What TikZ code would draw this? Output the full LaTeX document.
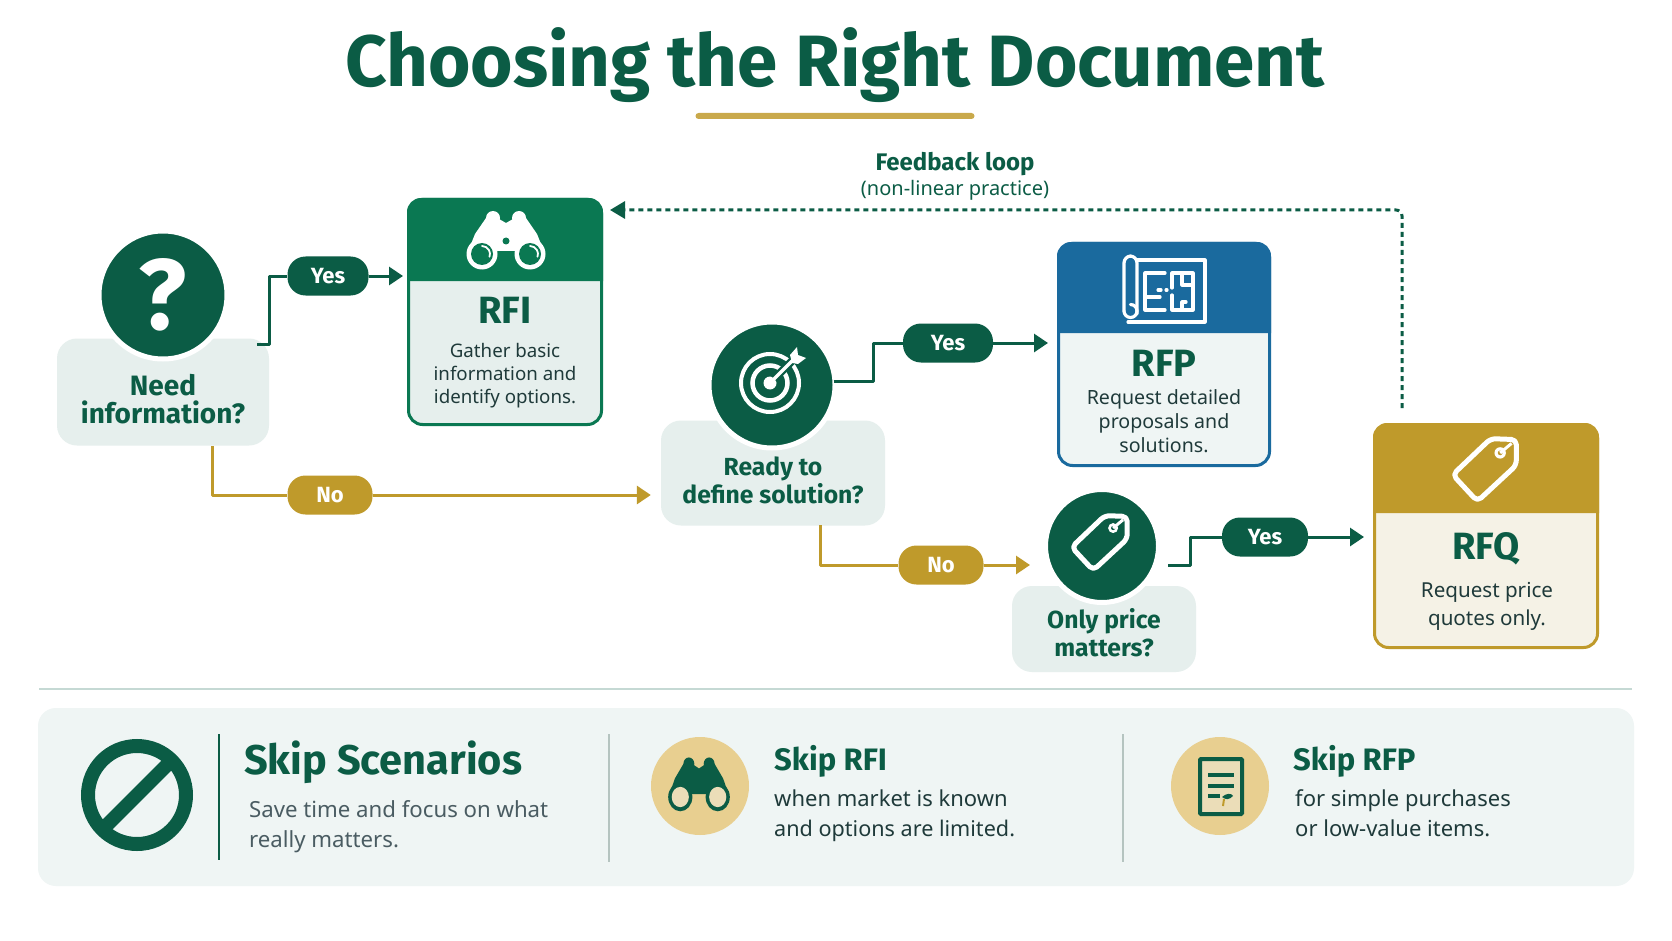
\documentclass[tikz,border=0pt]{standalone}
\usepackage{fontspec}
\setmainfont{Noto Sans}
\newfontfamily\hd{Fira Sans}
\newcommand{\bd}{\hd\bfseries}
\usetikzlibrary{arrows.meta,calc}
\definecolor{dg}{HTML}{0B5C45}
\definecolor{mg}{HTML}{0A7852}
\definecolor{bl}{HTML}{1A6A9E}
\definecolor{gd}{HTML}{BF9A2B}
\definecolor{lt}{HTML}{E6EFED}
\definecolor{pn}{HTML}{EFF5F4}
\definecolor{cr}{HTML}{F5F2E6}
\definecolor{sand}{HTML}{E8CF90}
\definecolor{sandl}{HTML}{EBDDB8}
\definecolor{ink}{HTML}{1F3A3A}
\definecolor{gy}{HTML}{4A5C62}
\definecolor{rule}{HTML}{C5D9D4}
\definecolor{dv}{HTML}{B5C4C0}
\newcommand{\fs}[2]{\fontsize{#1pt}{#2pt}\selectfont}
\tikzset{
  pill/.style={rounded corners=18pt,minimum height=39pt,inner sep=0pt,text=white,font=\bd\fs{22}{25}},
  yespill/.style={pill,fill=dg},
  nopill/.style={pill,fill=gd},
  qbox/.style={fill=lt,rounded corners=20pt,inner sep=0pt},
  qcirc/.style={circle,fill=dg,draw=white,line width=5pt,inner sep=0pt},
  qtext/.style={align=center,text=dg,inner sep=0pt},
  ctitle/.style={text=dg,font=\bd\fs{38}{40},inner sep=0pt},
  cdesc/.style={align=center,text=ink,inner sep=0pt},
  flow/.style={line width=3pt,line join=round},
  gflow/.style={flow,draw=dg},
  yflow/.style={flow,draw=gd},
  tip/.style={-{Triangle[length=14pt,width=18pt]}},
  cardframe/.style={rounded corners=14pt,line width=3pt,inner sep=0pt},
  htitle/.style={anchor=base west,text=dg,inner sep=0pt},
  sub/.style={anchor=base west,inner sep=0pt,font=\fs{22}{30}},
}
% card: name, x1,y1,x2,y2, header bottom, colour, body fill
\newcommand{\card}[8]{%
  \node[cardframe,draw=#7,fill=#8,minimum width={#4-#2-3},minimum height={#5-#3-3}] (#1) at ({(#2+#4)/2},{(#3+#5)/2}) {};
  \fill[#7] (#2,#6) -- (#2,#3+14) arc[start angle=180,end angle=90,radius=14pt] -- (#4-14,#3) arc[start angle=90,end angle=0,radius=14pt] -- (#4,#6) -- cycle;
}
% binoculars: x,y,xscale,yscale,body colour,lens colour
\newcommand{\binoc}[6]{%
  \begin{scope}[shift={(#1,#2)},xscale=#3,yscale=#4]
    \fill[#5] (-24,0) circle[radius=15.5pt] (24,0) circle[radius=15.5pt];
    \fill[#5] (-13,-36) circle[radius=7pt] (13,-36) circle[radius=7pt];
    \fill[#5] (-39,0) -- (-31,-20) -- (-20,-36) -- (-7,-35) -- (0,-31) -- (7,-35) -- (20,-36) -- (31,-20) -- (39,0) -- (9,-3) -- (-9,-3) -- cycle;
    \fill[#6] (-24,0) circle[radius=11pt] (24,0) circle[radius=11pt];
  \end{scope}}
% tag: x,y,scale,stroke,hole
\newcommand{\tagicon}[5]{%
  \begin{scope}[shift={(#1,#2)},scale=#3]
    \draw[#4,line width=5pt,rounded corners=5pt,line join=round] (34,-32) -- (7,-33) -- (-33,5) -- (-7,33) -- (34,-5) -- cycle;
    \fill[#4] (17,-18) circle[radius=6pt];
    \fill[#5] (17,-18) circle[radius=2.5pt];
    \draw[#4,line width=3pt] (17,-18) -- (29,-28);
  \end{scope}}
\begin{document}
\begin{tikzpicture}[x=1pt,y=-1pt]
\useasboundingbox (0,0) rectangle (1672,941);
\fill[white] (0,0) rectangle (1672,941);
% title
\node[inner sep=0pt,anchor=base,text=dg,font=\bd\fs{72.7}{80}] (title) at (835,87) {Choosing the Right Document};
\node[fill=gd!85!white,rounded corners=3pt,minimum width=279pt,minimum height=6pt,inner sep=0pt] (tbar) at (835,116) {};
% feedback label
\node[inner sep=0pt,text=dg,font=\bd\fs{24}{26}] (fbt) at (955,164) {Feedback loop};
\node[inner sep=0pt,text=dg,font=\fs{20}{22}] (fbs) at (955,190) {(non-linear practice)};
% question 1
\node[qbox,minimum width=212pt,minimum height=107pt] (q1box) at (163,392) {};
\node[qcirc,minimum size=128pt] (q1c) at (163,295) {};
\node[inner sep=0pt,text=white,font=\bd\fs{100}{104}] (q1m) at (163,295) {?};
\node[qtext,font=\bd\fs{28}{28}] (q1t) at (163,399) {Need\\information?};
% RFI
\card{rfi}{407}{198}{603}{426}{281}{mg}{lt}
\binoc{506}{254}{1}{1}{white}{mg}
\fill[mg] (506,241) circle[radius=3.5pt];
\draw[white,line width=1.8pt,line cap=round] (482,246) arc[start angle=90,end angle=-20,radius=8pt];
\draw[white,line width=1.8pt,line cap=round] (530,246) arc[start angle=90,end angle=-20,radius=8pt];
\node[ctitle] (rfit) at (505,310) {RFI};
\node[cdesc,font=\fs{18.7}{23}] (rfid) at (505,376) {Gather basic\\information and\\identify options.};
% question 2
\node[qbox,minimum width=224pt,minimum height=105pt] (q2box) at (773,473) {};
\node[qcirc,minimum size=126pt] (q2c) at (772,385) {};
\begin{scope}[shift={(770,383)}]
  \draw[white,line width=4pt] (0,0) circle[radius=29pt];
  \draw[white,line width=4.5pt] (0,0) circle[radius=17.5pt];
  \fill[white] (0,0) circle[radius=6.5pt];
  \draw[dg,line width=8pt] (4,-4) -- (24,-24);
  \draw[white,line width=3.5pt] (0,0) -- (24,-24);
  \fill[white] (20,-28) -- (27,-36) -- (28,-28) -- (36,-25) -- (28,-19) -- (22,-20) -- cycle;
\end{scope}
\node[qtext,font=\bd\fs{24.7}{28}] (q2t) at (773,480) {Ready to\\define solution?};
% RFP
\card{rfp}{1057}{242}{1271}{467}{333}{bl}{pn}
\begin{scope}[white,line width=3.2pt,line join=round,line cap=round]
  \draw[rounded corners=7pt] (1124,311) -- (1124,256) -- (1137,256) -- (1137,314);
  \draw (1124,311) arc[start angle=180,end angle=450,radius=6.5pt];
  \draw (1137,260) -- (1205,260) -- (1205,322) -- (1128,322);
  \draw (1165,273) -- (1145,273) -- (1145,310) -- (1165,310) (1145,297) -- (1160,297);
  \draw (1158,290) -- (1161,290) (1166,290) -- (1167,290);
  \draw (1172,288) -- (1172,273) -- (1193,273) -- (1193,310) -- (1172,310) -- (1172,295);
  \draw (1182,273) -- (1182,285) -- (1193,285) (1182,302) -- (1182,310) (1182,302) -- (1186,302);
\end{scope}
\node[ctitle] (rfpt) at (1164,363) {RFP};
\node[cdesc,font=\fs{19.6}{24}] (rfpd) at (1164,421) {Request detailed\\proposals and\\solutions.};
% question 3
\node[qbox,minimum width=184pt,minimum height=86pt] (q3box) at (1104,629) {};
\node[qcirc,minimum size=113pt] (q3c) at (1102,546) {};
\tagicon{1099}{543}{0.83}{white}{dg}
\node[qtext,font=\bd\fs{24.7}{28}] (q3t) at (1104,633) {Only price\\matters?};
% RFQ
\card{rfq}{1373}{423}{1599}{649}{513}{gd}{cr}
\tagicon{1484}{470}{0.95}{white}{gd}
\node[ctitle] (rfqt) at (1486,549) {RFQ};
\node[cdesc,font=\fs{20.6}{28}] (rfqd) at (1487,606) {Request price\\quotes only.};
% pills
\node[yespill,minimum width=81pt] (yes1) at (328,276) {Yes};
\node[nopill,minimum width=85pt] (no1) at (330,495) {No};
\node[yespill,minimum width=90pt] (yes2) at (948,343) {Yes};
\node[nopill,minimum width=85pt] (no2) at (941,565) {No};
\node[yespill,minimum width=86pt] (yes3) at (1265,537) {Yes};
% connectors
\coordinate (q1out) at (257,344);
\coordinate (q1down) at (212,446);
\coordinate (q2down) at (820,525);
\coordinate (q3out) at (1168,565);
\coordinate (fbstart) at (1402,408);
\coordinate (fbend) at (610,210);
\draw[gflow] (q1out) -| ([xshift=-18pt]yes1.west) -- (yes1.west);
\draw[gflow,tip,shorten >=4pt] (yes1.east) -- (yes1.east -| rfi.west);
\draw[yflow] (q1down) |- (no1.west);
\draw[yflow,tip,shorten >=10pt] (no1.east) -- (no1.east -| q2box.west);
\draw[gflow] ([xshift=-4pt,yshift=4pt]q2c.east) -| ([xshift=-29pt]yes2.west) -- (yes2.west);
\draw[gflow,tip,shorten >=9pt] (yes2.east) -- (yes2.east -| rfp.west);
\draw[yflow] (q2down) |- (no2.west);
\draw[yflow,tip,shorten >=13pt] (no2.east) -- (no2.east -| q3c.west);
\draw[gflow] (q3out) -| ([xshift=-31pt]yes3.west) -- (yes3.west);
\draw[gflow,tip,shorten >=9pt] (yes3.east) -- (yes3.east -| rfq.west);
\draw[dg,line width=3pt,dash pattern=on 5pt off 4pt,rounded corners=6pt,-{Triangle[length=15pt,width=17pt]}] (fbstart) |- (fbend);
% bottom
\draw[rule,line width=2pt] (39,689) -- (1632,689);
\node[fill=pn,rounded corners=18pt,minimum width=1596pt,minimum height=178pt,inner sep=0pt] (panel) at (836,797) {};
\draw[dg,line width=14pt] (137,795) circle[radius=49pt];
\draw[dg,line width=14pt] (103,829) -- (171,761);
\draw[dg,line width=2.5pt] (219,734) -- (219,860);
\node[htitle,font=\bd\fs{41.5}{44}] (ss) at (244,774) {Skip Scenarios};
\node[sub,text=gy,font=\fs{22.2}{30}] (ss1) at (249,817) {Save time and focus on what};
\node[sub,text=gy,font=\fs{22.2}{30}] (ss2) at (249,847) {really matters.};
\draw[dv,line width=2pt] (609,734) -- (609,862);
\node[circle,fill=sand,minimum size=98pt,inner sep=0pt] (c1) at (700,786) {};
\binoc{699}{797}{0.78}{0.92}{dg}{sandl}
\node[htitle,font=\bd\fs{31}{34}] (sr) at (774,770) {Skip RFI};
\node[sub,text=ink] (sr1) at (774,806) {when market is known};
\node[sub,text=ink,font=\fs{21.6}{30}] (sr2) at (774,836) {and options are limited.};
\draw[dv,line width=2pt] (1123,734) -- (1123,862);
\node[circle,fill=sand,minimum size=98pt,inner sep=0pt] (c2) at (1220,786) {};
\draw[dg,fill=sandl,line width=4pt,rounded corners=1pt] (1200,759) rectangle (1242,814);
\draw[dg,line width=4pt] (1208,775) -- (1234,775) (1208,786) -- (1234,786) (1208,796) -- (1220,796);
\fill[dg] (1222,797) .. controls (1226,793) and (1232,793) .. (1233,796) .. controls (1229,800) and (1226,800) .. (1222,797);
\draw[gd,line width=2pt] (1224,799) -- (1223,806);
\node[htitle,font=\bd\fs{31}{34}] (sp) at (1293,770) {Skip RFP};
\node[sub,text=ink] (sp1) at (1295,806) {for simple purchases};
\node[sub,text=ink] (sp2) at (1295,836) {or low-value items.};
\end{tikzpicture}
\end{document}
